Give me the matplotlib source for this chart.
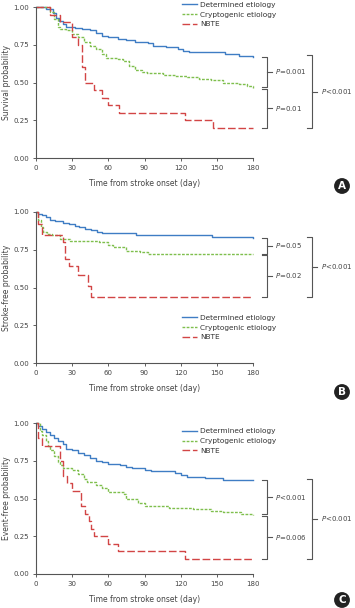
import matplotlib
matplotlib.use('Agg')
import matplotlib.pyplot as plt

# %%
# Kaplan-Meier step points (day, probability)
# Panel A - survival
a_det_t = [0, 8, 14, 17, 19, 22, 25, 32, 38, 45, 50, 55, 60, 68, 75, 82, 93, 97, 108, 118, 122, 127, 157, 168, 180]
a_det_s = [1.0, 0.99, 0.96, 0.93, 0.91, 0.89, 0.87, 0.86, 0.855, 0.845, 0.83, 0.81, 0.80, 0.79, 0.78, 0.77, 0.76, 0.745, 0.735, 0.725, 0.71, 0.70, 0.69, 0.675, 0.67]
a_cry_t = [0, 12, 15, 18, 20, 25, 30, 35, 40, 45, 50, 55, 58, 68, 72, 77, 82, 88, 92, 105, 115, 125, 135, 145, 155, 168, 175, 180]
a_cry_s = [1.0, 0.97, 0.92, 0.87, 0.855, 0.845, 0.82, 0.80, 0.77, 0.74, 0.72, 0.69, 0.66, 0.655, 0.64, 0.61, 0.585, 0.57, 0.56, 0.55, 0.54, 0.535, 0.525, 0.515, 0.50, 0.49, 0.475, 0.465]
a_nbt_t = [0, 12, 20, 30, 35, 38, 41, 48, 55, 60, 69, 124, 147, 180]
a_nbt_s = [1.0, 0.95, 0.90, 0.80, 0.75, 0.60, 0.50, 0.45, 0.40, 0.35, 0.30, 0.25, 0.20, 0.20]

# Panel B - stroke-free
b_det_t = [0, 2, 5, 8, 12, 16, 22, 27, 32, 36, 41, 46, 51, 55, 83, 138, 146, 180]
b_det_s = [1.0, 0.99, 0.98, 0.965, 0.95, 0.94, 0.93, 0.92, 0.91, 0.90, 0.89, 0.88, 0.87, 0.86, 0.85, 0.845, 0.835, 0.825]
b_cry_t = [0, 2, 4, 6, 9, 13, 20, 28, 52, 60, 64, 75, 86, 93, 180]
b_cry_s = [1.0, 0.95, 0.90, 0.87, 0.855, 0.845, 0.82, 0.81, 0.80, 0.78, 0.765, 0.74, 0.735, 0.72, 0.72]
b_nbt_t = [0, 2, 5, 22, 24, 27, 35, 43, 46, 180]
b_nbt_s = [1.0, 0.92, 0.85, 0.80, 0.69, 0.64, 0.58, 0.51, 0.44, 0.44]

# Panel C - event-free
c_det_t = [0, 2, 5, 8, 12, 15, 18, 22, 25, 30, 35, 40, 45, 50, 55, 60, 70, 75, 80, 90, 95, 115, 120, 125, 140, 155, 180]
c_det_s = [1.0, 0.98, 0.96, 0.94, 0.92, 0.90, 0.88, 0.86, 0.83, 0.82, 0.80, 0.79, 0.77, 0.75, 0.74, 0.73, 0.72, 0.71, 0.70, 0.69, 0.68, 0.67, 0.655, 0.645, 0.635, 0.625, 0.62]
c_cry_t = [0, 3, 5, 8, 10, 12, 15, 18, 20, 22, 30, 35, 40, 42, 50, 55, 60, 73, 75, 85, 90, 110, 130, 145, 155, 170, 180]
c_cry_s = [1.0, 0.95, 0.92, 0.88, 0.85, 0.82, 0.78, 0.74, 0.72, 0.70, 0.69, 0.66, 0.63, 0.61, 0.59, 0.57, 0.54, 0.53, 0.50, 0.47, 0.45, 0.44, 0.43, 0.42, 0.41, 0.40, 0.39]
c_nbt_t = [0, 2, 5, 20, 22, 26, 30, 37, 41, 44, 46, 48, 60, 68, 124, 180]
c_nbt_s = [1.0, 0.90, 0.85, 0.75, 0.65, 0.60, 0.55, 0.45, 0.40, 0.35, 0.30, 0.25, 0.20, 0.15, 0.10, 0.10]

ylabels = ['Survival probability', 'Stroke-free probability', 'Event-free probability']
pvals = [('$P$=0.001', '$P$=0.01', '$P$<0.001'),
         ('$P$=0.05', '$P$=0.02', '$P$<0.001'),
         ('$P$<0.001', '$P$=0.006', '$P$<0.001')]
letters = ['A', 'B', 'C']
xticks = [0, 30, 60, 90, 120, 150, 180]
yticks = [0.0, 0.25, 0.5, 0.75, 1.0]

blue = '#3f7dc4'
green = '#7fbf4d'
red = '#d24545'
grey = '#555555'

panels = [((a_det_t, a_det_s), (a_cry_t, a_cry_s), (a_nbt_t, a_nbt_s)),
          ((b_det_t, b_det_s), (b_cry_t, b_cry_s), (b_nbt_t, b_nbt_s)),
          ((c_det_t, c_det_s), (c_cry_t, c_cry_s), (c_nbt_t, c_nbt_s))]

# axes bottoms (figure fraction) and legend anchors
bottoms = [1 - 158 / 608, 1 - 363 / 608, 1 - 574 / 608]
leg_anchor = [(0.66, 1.055), (0.66, 0.34), (0.66, 0.985)]
letter_y = [186, 392, 600]

fig = plt.figure(figsize=(3.55, 6.08), dpi=100)


def bracket(ax, x0, x1, ytop, ybot, label):
    kw = dict(color=grey, lw=0.8, clip_on=False)
    ax.plot([x0, x1, x1, x0], [ytop, ytop, ybot, ybot], **kw)
    ym = (ytop + ybot) / 2
    ax.plot([x1, x1 + 4], [ym, ym], **kw)
    ax.text(x1 + 7, ym, label, fontsize=5, color='#444444', va='center', ha='left')


for i, (det, cry, nbt) in enumerate(panels):
    ax = fig.add_axes([36 / 355, bottoms[i], 217 / 355, 151 / 608])
    ax.step(det[0], det[1], where='post', color=blue, lw=1.0, clip_on=False,
            label='Determined etiology')
    ax.step(cry[0], cry[1], where='post', color=green, lw=1.0, clip_on=False,
            dashes=(2, 1), label='Cryptogenic etiology')
    ax.step(nbt[0], nbt[1], where='post', color=red, lw=1.0, clip_on=False,
            dashes=(5.5, 2), label='NBTE')
    ax.set_xlim(0, 180)
    ax.set_ylim(0, 1)
    ax.set_xticks(xticks)
    ax.set_yticks(yticks)
    ax.set_yticklabels(['%.2f' % v for v in yticks])
    ax.tick_params(labelsize=5, colors='#444444', length=2.5, width=0.6, pad=2.5)
    for s in ['top', 'right']:
        ax.spines[s].set_visible(False)
    for s in ['left', 'bottom']:
        ax.spines[s].set_color(grey)
        ax.spines[s].set_linewidth(0.8)
    ax.set_xlabel('Time from stroke onset (day)', fontsize=5.5, color='#444444', labelpad=6)
    ax.set_ylabel(ylabels[i], fontsize=5.5, color='#444444', labelpad=2)
    ax.legend(loc='upper left', bbox_to_anchor=leg_anchor[i], frameon=False,
              fontsize=5.3, handlelength=2.0, handletextpad=0.4, labelspacing=0.5,
              borderaxespad=0, labelcolor='#333333')

    # significance brackets built from the curve end values
    e_det, e_cry, e_nbt = det[1][-1], cry[1][-1], nbt[1][-1]
    p1, p2, p3 = pvals[i]
    bracket(ax, 187.5, 191.5, e_det, e_cry + 0.005, p1)
    bracket(ax, 187.5, 191.5, e_cry - 0.005, e_nbt, p2)
    bracket(ax, 225, 229, e_det + 0.01, e_nbt, p3)

    fig.text(342 / 355, 1 - letter_y[i] / 608, letters[i], fontsize=7.5, fontweight='bold',
             color='white', ha='center', va='center',
             bbox=dict(boxstyle='circle,pad=0.28', fc='#222222', ec='none'))

fig.savefig('out.png', dpi=100)
